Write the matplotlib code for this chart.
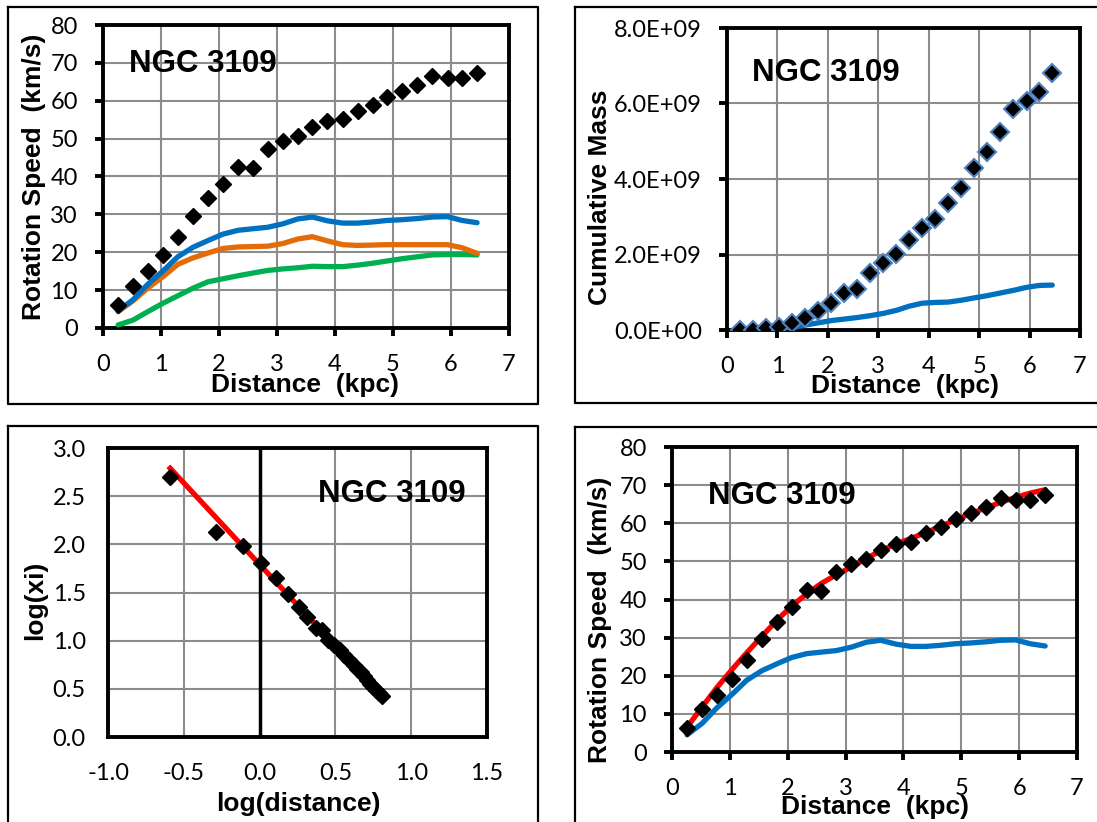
import numpy as np
import matplotlib
matplotlib.use("Agg")
import matplotlib.pyplot as plt
from matplotlib.lines import Line2D
from matplotlib.ticker import FuncFormatter

plt.rcParams['axes.unicode_minus'] = False

W, H = 1097, 822

# Rotation curve data (kpc, km/s)
distance = [0.26, 0.52, 0.77, 1.03, 1.29, 1.55, 1.81, 2.07, 2.33, 2.58, 2.84, 3.10, 3.36,
            3.61, 3.87, 4.13, 4.39, 4.65, 4.90, 5.16, 5.42, 5.68, 5.94, 6.19, 6.45]
v_obs = [6.2, 11.2, 15.0, 19.2, 24.1, 29.7, 34.2, 38.1, 42.5, 42.3, 47.3, 49.3, 50.6,
         53.0, 54.6, 55.2, 57.4, 59.0, 61.1, 62.6, 64.2, 66.6, 66.1, 66.1, 67.3]
v_fit = [6.5, 11.8, 16.8, 21.5, 26.0, 30.3, 34.5, 38.3, 41.5, 44.2, 46.5, 48.5, 50.8,
         52.8, 54.6, 56.0, 57.6, 59.2, 60.9, 62.5, 64.0, 65.5, 66.8, 67.9, 68.8]
v_blue = [4.5, 7.5, 11.5, 15.0, 18.8, 21.3, 23.1, 24.8, 25.8, 26.2, 26.6, 27.5, 28.8,
          29.3, 28.3, 27.7, 27.7, 28.0, 28.4, 28.6, 28.9, 29.3, 29.4, 28.4, 27.8]
v_orange = [4.3, 7.2, 10.5, 13.5, 16.8, 18.5, 19.8, 21.0, 21.4, 21.5, 21.6, 22.3, 23.5,
            24.1, 23.0, 22.0, 21.8, 21.9, 22.0, 22.0, 22.0, 22.0, 22.0, 21.2, 19.7]
v_green = [0.8, 2.1, 4.3, 6.5, 8.5, 10.5, 12.2, 13.0, 13.8, 14.5, 15.2, 15.6, 15.9,
           16.3, 16.2, 16.2, 16.6, 17.1, 17.7, 18.3, 18.8, 19.3, 19.4, 19.4, 19.3]

# Cumulative mass (units of 1e9 solar masses)
mass_obs = [0.0, 0.01, 0.04, 0.09, 0.18, 0.31, 0.50, 0.71, 0.97, 1.09, 1.50, 1.77, 2.01,
            2.38, 2.69, 2.94, 3.37, 3.77, 4.28, 4.72, 5.24, 5.85, 6.07, 6.31, 6.82]
mass_disk = [0.0, 0.06, 0.13, 0.19, 0.25, 0.29, 0.33, 0.38, 0.44, 0.52, 0.63, 0.71,
             0.73, 0.74, 0.79, 0.85, 0.91, 0.98, 1.05, 1.13, 1.18, 1.19]

# log-log data
log_dist = [-0.59, -0.29, -0.11, 0.01, 0.11, 0.19, 0.26, 0.31, 0.37, 0.41, 0.45, 0.49, 0.53,
            0.56, 0.59, 0.62, 0.64, 0.67, 0.69, 0.71, 0.73, 0.75, 0.77, 0.79, 0.81]
log_xi = [2.70, 2.13, 1.98, 1.81, 1.65, 1.48, 1.35, 1.25, 1.13, 1.11, 1.01, 0.96, 0.90,
          0.85, 0.80, 0.75, 0.71, 0.67, 0.63, 0.59, 0.55, 0.52, 0.49, 0.46, 0.43]
log_fit_x = [-0.59, 0.81]
log_fit_y = [2.79, 0.42]

BLUE = '#0070C0'
ORANGE = '#E36C09'
GREEN = '#00B050'
RED = '#FF0000'
GRID = '#8C8C8C'

BOLD = dict(family='Liberation Sans', weight='bold')
TICKFONT = 'Lato'
TICKSIZE = 17
LABELSIZE = 19
TITLESIZE = 22.5


def px_axes(fig, x0, y0, x1, y1):
    # axes from pixel box (top-left origin)
    return fig.add_axes([x0 / W, 1 - y1 / H, (x1 - x0) / W, (y1 - y0) / H])


def fig_text(fig, x, y, s, **kw):
    fig.text(x / W, 1 - y / H, s, **kw)


def box(fig, x0, y0, x1, y1):
    # chart area border
    xs = [x0 / W, x1 / W, x1 / W, x0 / W, x0 / W]
    ys = [1 - y0 / H, 1 - y0 / H, 1 - y1 / H, 1 - y1 / H, 1 - y0 / H]
    fig.add_artist(Line2D(xs, ys, color='black', lw=1.6, transform=fig.transFigure))


def style_axes(ax, ticks=True):
    ax.grid(True, color=GRID, lw=1.5)
    ax.set_axisbelow(True)
    for s in ax.spines.values():
        s.set_linewidth(2.8)
        s.set_color('black')
    if ticks:
        ax.tick_params(direction='out', length=6, width=2.8, labelsize=TICKSIZE)
        ax.tick_params(axis='x', pad=13)
        ax.tick_params(axis='y', pad=12)
    else:
        ax.tick_params(length=0, labelsize=TICKSIZE)
        ax.tick_params(axis='x', pad=19)
        ax.tick_params(axis='y', pad=16)
    for lab in ax.get_xticklabels() + ax.get_yticklabels():
        lab.set_family(TICKFONT)


def main():
    fig = plt.figure(figsize=(W / 100, H / 100), dpi=100)

    # chart area borders
    box(fig, 8, 7, 538, 404)
    box(fig, 575, 7, 1110, 403)
    box(fig, 8, 426, 538, 840)
    box(fig, 575, 427, 1110, 840)

    # --- top left: rotation speed components
    ax = px_axes(fig, 103, 25, 509, 328)
    ax.plot(distance, v_green, color=GREEN, lw=3.8, solid_capstyle='round', zorder=3)
    ax.plot(distance, v_orange, color=ORANGE, lw=3.8, solid_capstyle='round', zorder=3)
    ax.plot(distance, v_blue, color=BLUE, lw=3.8, solid_capstyle='round', zorder=3)
    ax.plot(distance, v_obs, 'D', color='black', ms=8.5, zorder=4)
    ax.set_xlim(0, 7)
    ax.set_ylim(0, 80)
    ax.set_xticks(range(0, 8))
    ax.set_yticks(range(0, 81, 10))
    style_axes(ax)
    ax.text(0.065, 0.87, 'NGC 3109', transform=ax.transAxes, fontsize=TITLESIZE,
            va='center', **BOLD)
    fig_text(fig, 34, 177, 'Rotation Speed  (km/s)', rotation=90, ha='center', va='center',
             fontsize=LABELSIZE, **BOLD)
    fig_text(fig, 305, 385, 'Distance  (kpc)', ha='center', va='center',
             fontsize=LABELSIZE, **BOLD)

    # --- top right: cumulative mass
    ax = px_axes(fig, 727, 28, 1080, 330)
    ax.plot(distance[3:], np.array(mass_disk) * 1e9, color=BLUE, lw=3.8,
            solid_capstyle='round', zorder=3)
    ax.plot(distance, np.array(mass_obs) * 1e9, 'D', color='black', mec='#4F81BD', mew=1.5,
            ms=9, zorder=4)
    ax.set_xlim(0, 7)
    ax.set_ylim(0, 8e9)
    ax.set_xticks(range(0, 8))
    ax.set_yticks(np.arange(0, 8.1e9, 2e9))
    ax.yaxis.set_major_formatter(FuncFormatter(lambda v, p: f'{v:.1E}'))
    style_axes(ax)
    ax.text(0.07, 0.85, 'NGC 3109', transform=ax.transAxes, fontsize=TITLESIZE,
            va='center', **BOLD)
    fig_text(fig, 600, 197, 'Cumulative Mass', rotation=90, ha='center', va='center',
             fontsize=LABELSIZE, **BOLD)
    fig_text(fig, 905, 386, 'Distance  (kpc)', ha='center', va='center',
             fontsize=LABELSIZE, **BOLD)

    # --- bottom left: log-log
    ax = px_axes(fig, 108, 448, 487, 737)
    ax.axvline(0, color='black', lw=2.5, zorder=2)
    ax.plot(log_fit_x, log_fit_y, color=RED, lw=3.8, zorder=3)
    ax.plot(log_dist, log_xi, 'D', color='black', ms=8.5, zorder=4)
    ax.set_xlim(-1.0, 1.5)
    ax.set_ylim(0, 3.0)
    ax.set_xticks(np.arange(-1.0, 1.51, 0.5))
    ax.set_yticks(np.arange(0, 3.01, 0.5))
    ax.xaxis.set_major_formatter(FuncFormatter(lambda v, p: f'{v:.1f}'))
    ax.yaxis.set_major_formatter(FuncFormatter(lambda v, p: f'{v:.1f}'))
    style_axes(ax, ticks=False)
    ax.text(0.555, 0.84, 'NGC 3109', transform=ax.transAxes, fontsize=TITLESIZE,
            va='center', **BOLD)
    fig_text(fig, 35, 600, 'log(xi)', rotation=90, ha='center', va='center',
             fontsize=LABELSIZE, **BOLD)
    fig_text(fig, 298, 804, 'log(distance)', ha='center', va='center',
             fontsize=LABELSIZE, **BOLD)

    # --- bottom right: rotation curve fit
    ax = px_axes(fig, 672, 447, 1077, 752)
    ax.plot(distance, v_blue, color=BLUE, lw=3.8, solid_capstyle='round', zorder=3)
    ax.plot(distance, v_fit, color=RED, lw=3.8, solid_capstyle='round', zorder=3)
    ax.plot(distance, v_obs, 'D', color='black', ms=8.5, zorder=4)
    ax.set_xlim(0, 7)
    ax.set_ylim(0, 80)
    ax.set_xticks(range(0, 8))
    ax.set_yticks(range(0, 81, 10))
    style_axes(ax)
    ax.text(0.09, 0.84, 'NGC 3109', transform=ax.transAxes, fontsize=TITLESIZE,
            va='center', **BOLD)
    fig_text(fig, 600, 620, 'Rotation Speed  (km/s)', rotation=90, ha='center', va='center',
             fontsize=LABELSIZE, **BOLD)
    fig_text(fig, 875, 807, 'Distance  (kpc)', ha='center', va='center',
             fontsize=LABELSIZE, **BOLD)

    fig.savefig('out.png', dpi=100)
    plt.close(fig)


if __name__ == "__main__":
    main()
